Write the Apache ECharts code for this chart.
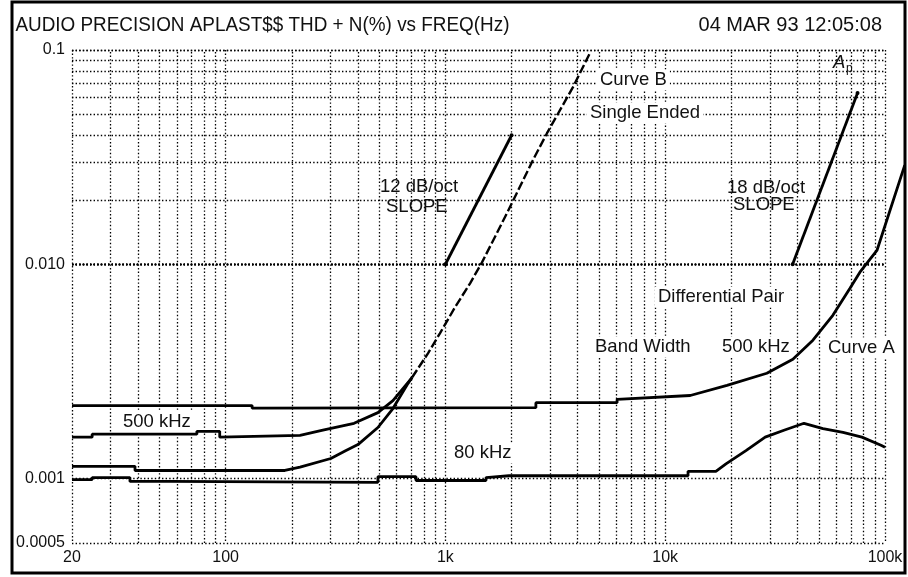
<!DOCTYPE html>
<html><head><meta charset="utf-8">
<script src="https://cdn.jsdelivr.net/npm/echarts@6/dist/echarts.min.js"></script>
<style>html,body{margin:0;padding:0;background:#fff}#c{width:908px;height:577px}</style>
</head><body><div id="c"></div>
<script>
// ---- axis ticks ----
const xTickValues = [20, 100, 1000, 10000, 100000];
const xTickLabels = ['20', '100', '1k', '10k', '100k'];
const yTickValues = [0.0005, 0.001, 0.01, 0.1];
const yTickLabels = ['0.0005', '0.001', '0.010', '0.1'];
const xMinorGrid = [30,40,50,60,70,80,90,200,300,400,500,600,700,800,900,2000,3000,4000,5000,6000,7000,8000,9000,20000,30000,40000,50000,60000,70000,80000,90000];
const yMinorGrid = [0.0006,0.0007,0.0008,0.0009,0.002,0.003,0.004,0.005,0.006,0.007,0.008,0.009,0.02,0.03,0.04,0.05,0.06,0.07,0.08,0.09];

// ---- curves [freq Hz, THD+N %] ----
const curveA500k = [[20,0.00219],[132,0.00219],[132,0.00213],[2580,0.00214],[2580,0.00226],[6040,0.00226],[6040,0.00234],[13000,0.00244],[19100,0.00272],[29000,0.00310],[38100,0.00360],[47000,0.00442],[57900,0.00578],[69300,0.00773],[76900,0.00918],[91900,0.0116],[123000,0.0290]];
const curveA80k = [[20,0.000988],[24.7,0.000988],[24.7,0.00101],[36.7,0.00101],[36.7,0.000969],[55.8,0.000969],[55.8,0.000955],[493,0.000960],[493,0.00102],[735,0.00102],[735,0.000979],[1530,0.000979],[1530,0.00101],[1946,0.00103],[12700,0.00103],[12700,0.00108],[17000,0.00108],[18900,0.00117],[23300,0.00135],[28500,0.00156],[34700,0.00168],[42800,0.00181],[52200,0.00171],[64400,0.00164],[78500,0.00156],[95900,0.00143],[100000,0.00140]];
const curveB500k = [[20,0.00156],[24.7,0.00156],[24.7,0.00161],[74,0.00161],[74,0.00166],[94,0.00166],[94,0.00156],[218,0.00159],[277,0.00168],[384,0.00181],[493,0.00203],[577,0.00231],[705,0.00296]];
const curveB80k = [[20,0.00114],[38.7,0.00114],[38.7,0.00109],[186,0.00109],[218,0.00113],[301,0.00124],[353,0.00135],[400,0.00144],[493,0.00173],[577,0.00212],[676,0.00278],[705,0.00296]];
const curveBTop = [[705,0.00296],[833,0.00384],[944,0.00476],[1106,0.0063],[1295,0.00815],[1467,0.0102],[1905,0.0173],[2500,0.0306],[2898,0.0409],[3805,0.0671],[4546,0.0968]];
const slope12 = [[1000,0.01],[2000,0.04]];
const slope18 = [[38000,0.01],[75000,0.063]];

const FONT = "'Liberation Sans', Arial, sans-serif";
function nearestLabel(v, vals, labs) {
  let best = -1, bd = Infinity;
  vals.forEach((t, i) => { const d = Math.abs(Math.log10(v) - Math.log10(t)); if (d < bd) { bd = d; best = i; } });
  return bd < 0.01 ? labs[best] : '';
}
const dotted = { type: [1.4, 2.2], color: '#000', width: 1.3 };
const curveStyle = { color: '#000', width: 2.8 };

const chart = echarts.init(document.getElementById('c'), null, { renderer: 'canvas' });
const gridLines = xMinorGrid.map(v => ({ xAxis: v })).concat(yMinorGrid.map(v => ({ yAxis: v })));

function txt(text, x, y, size, bg, extra, elExtra) {
  return Object.assign({
    type: 'text', x: x, y: y, z: 50,
    style: Object.assign({ text: text, font: size + 'px ' + FONT, fill: '#111', align: 'left', verticalAlign: 'middle',
      backgroundColor: bg ? '#fff' : null, padding: bg ? [1, 3, 1, 3] : 0 }, extra || {})
  }, elExtra || {});
}

chart.setOption({
  animation: false,
  grid: [
    { left: 72, right: 23, top: 50, bottom: 34, containLabel: false },
    { left: 72, right: 3, top: 50, bottom: 34, containLabel: false }
  ],
  xAxis: [{
    type: 'log', logBase: 10, min: 20, max: 100000, gridIndex: 0,
    axisLine: { show: false }, axisTick: { show: false },
    splitLine: { show: true, lineStyle: dotted },
    axisLabel: { show: true, showMinLabel: true, showMaxLabel: true, margin: 7, color: '#111', fontSize: 16, fontFamily: FONT,
      formatter: v => nearestLabel(v, xTickValues, xTickLabels) }
  }, {
    type: 'log', logBase: 10, min: 20, max: 123320, gridIndex: 1, show: false,
    splitLine: { show: false }
  }],
  yAxis: [{
    type: 'log', logBase: 10, min: 0.0005, max: 0.1, gridIndex: 0,
    axisLine: { show: false }, axisTick: { show: false },
    splitLine: { show: true, lineStyle: dotted },
    axisLabel: { show: true, showMinLabel: true, showMaxLabel: true, margin: 7, color: '#111', fontSize: 16, fontFamily: FONT,
      formatter: v => nearestLabel(v, yTickValues, yTickLabels) }
  }, {
    type: 'log', logBase: 10, min: 0.0005, max: 0.1, gridIndex: 1, show: false,
    splitLine: { show: false }
  }],
  series: [
    { type: 'line', name: 'grid', data: [], z: 1, silent: true,
      markLine: { silent: true, symbol: ['none', 'none'], label: { show: false }, lineStyle: dotted, data: gridLines, animation: false } },
    { type: 'line', name: 'Curve A 500 kHz', data: curveA500k, xAxisIndex: 1, yAxisIndex: 1, showSymbol: false, z: 60, lineStyle: curveStyle },
    { type: 'line', name: 'Curve A 80 kHz', data: curveA80k, showSymbol: false, z: 60, lineStyle: curveStyle },
    { type: 'line', name: 'Curve B 500 kHz', data: curveB500k, showSymbol: false, z: 60, lineStyle: curveStyle },
    { type: 'line', name: 'Curve B 80 kHz', data: curveB80k, showSymbol: false, z: 60, lineStyle: curveStyle },
    { type: 'line', name: 'Curve B', data: curveBTop, showSymbol: false, z: 60, lineStyle: { color: '#000', width: 2.4, type: [9, 3] } },
    { type: 'line', name: '12 dB/oct', data: slope12, symbol: 'circle', symbolSize: 4, itemStyle: { color: '#000' }, z: 60, lineStyle: curveStyle },
    { type: 'line', name: '18 dB/oct', data: slope18, symbol: 'circle', symbolSize: 4, itemStyle: { color: '#000' }, z: 60, lineStyle: curveStyle }
  ],
  graphic: [
    { type: 'rect', z: 100, shape: { x: 12, y: 2, width: 893, height: 571 }, style: { fill: 'none', stroke: '#000', lineWidth: 3 } },
    txt('AUDIO PRECISION APLAST$$ THD + N(%) vs FREQ(Hz)', 14, 25, 21, false, null, { scaleX: 0.9, originX: 14 }),
    txt('04 MAR 93 12:05:08', 882, 25, 20, false, { align: 'right' }),
    txt('Curve B', 597, 80, 18.5, true),
    txt('Single Ended', 587, 113, 18.5, true),
    txt('12 dB/oct', 380, 187, 18.5, false),
    txt('SLOPE', 386, 207, 18.5, false),
    txt('18 dB/oct', 727, 188, 18.5, false),
    txt('SLOPE', 733, 205, 18.5, false),
    txt('A', 833, 63, 18.5, false, { font: 'italic 18.5px ' + FONT }),
    txt('p', 846, 69, 12, false),
    txt('Differential Pair', 655, 297, 18.5, true),
    txt('Band Width', 592, 347, 18.5, true),
    txt('500 kHz', 719, 347, 18.5, true),
    txt('Curve A', 825, 348, 18.5, true),
    txt('500 kHz', 120, 422, 18.5, true),
    txt('80 kHz', 451, 453, 18.5, true)
  ]
});
</script>
</body></html>
